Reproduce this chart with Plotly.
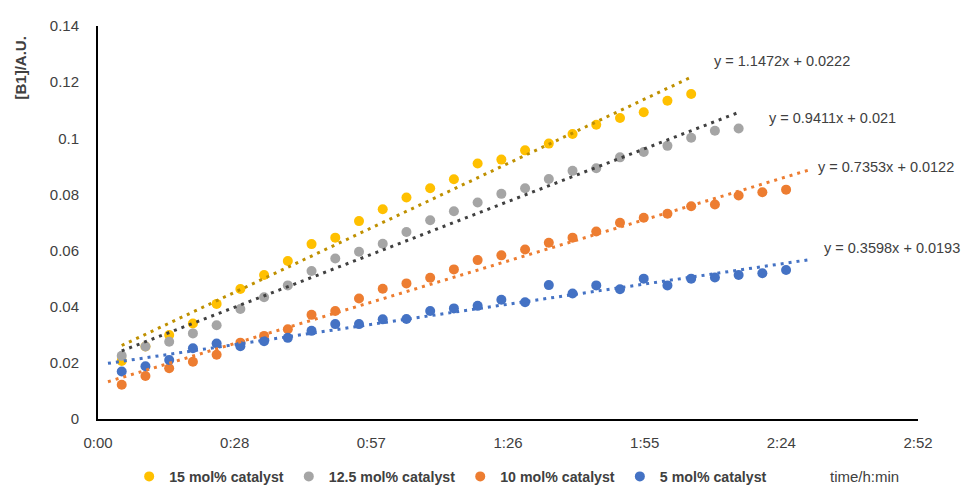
import plotly.graph_objects as go

# ---------------- data ----------------
series_names = ["15 mol% catalyst", "12.5 mol% catalyst", "10 mol% catalyst", "5 mol% catalyst"]

time_15 = [5, 10, 15, 20, 25, 30, 35, 40, 45, 50, 55, 60, 65, 70, 75, 80, 85, 90, 95, 100,
           105, 110, 115, 120, 125]
b1_15 = [0.0207, 0.0258, 0.0299, 0.0340, 0.0410, 0.0463, 0.0513, 0.0563, 0.0623, 0.0646,
         0.0705, 0.0747, 0.0789, 0.0822, 0.0854, 0.0910, 0.0924, 0.0957, 0.0981, 0.1015,
         0.1048, 0.1072, 0.1093, 0.1134, 0.1158]

time_125 = [5, 10, 15, 20, 25, 30, 35, 40, 45, 50, 55, 60, 65, 70, 75, 80, 85, 90, 95, 100,
            105, 110, 115, 120, 125, 130, 135]
b1_125 = [0.0225, 0.0258, 0.0275, 0.0305, 0.0334, 0.0392, 0.0434, 0.0476, 0.0527, 0.0572,
          0.0596, 0.0624, 0.0666, 0.0708, 0.0740, 0.0771, 0.0802, 0.0822, 0.0855, 0.0884,
          0.0893, 0.0932, 0.0951, 0.0973, 0.1002, 0.1027, 0.1035]

time_10 = [5, 10, 15, 20, 25, 30, 35, 40, 45, 50, 55, 60, 65, 70, 75, 80, 85, 90, 95, 100,
           105, 110, 115, 120, 125, 130, 135, 140, 145]
b1_10 = [0.0122, 0.0153, 0.0181, 0.0204, 0.0229, 0.0272, 0.0296, 0.0320, 0.0371, 0.0385,
         0.0429, 0.0464, 0.0483, 0.0503, 0.0533, 0.0566, 0.0583, 0.0604, 0.0628, 0.0646,
         0.0668, 0.0699, 0.0717, 0.0731, 0.0758, 0.0764, 0.0796, 0.0808, 0.0817]

time_5 = [5, 10, 15, 20, 25, 30, 35, 40, 45, 50, 55, 60, 65, 70, 75, 80, 85, 90, 95, 100,
          105, 110, 115, 120, 125, 130, 135, 140, 145]
b1_5 = [0.0169, 0.0188, 0.0210, 0.0252, 0.0269, 0.0259, 0.0277, 0.0289, 0.0314, 0.0338,
        0.0338, 0.0355, 0.0356, 0.0385, 0.0394, 0.0403, 0.0425, 0.0416, 0.0477, 0.0447,
        0.0476, 0.0462, 0.0500, 0.0476, 0.0500, 0.0504, 0.0513, 0.0519, 0.0531]

# linear trendlines (x in days, as in the Excel equations)
trend_slope = [1.1472, 0.9411, 0.7353, 0.3598]
trend_intercept = [0.0222, 0.021, 0.0122, 0.0193]
trend_start_min = [5, 5, 2.1, 2.1]
trend_end_min = [125, 135, 150.5, 150.5]
trend_labels = ["y = 1.1472x + 0.0222", "y = 0.9411x + 0.021",
                "y = 0.7353x + 0.0122", "y = 0.3598x + 0.0193"]

x_tick_min = [0, 28.8, 57.6, 86.4, 115.2, 144, 172.8]
x_tick_text = ["0:00", "0:28", "0:57", "1:26", "1:55", "2:24", "2:52"]

# ---------------- style ----------------
marker_colors = ["#FFC000", "#A5A5A5", "#ED7D31", "#4472C4"]
trend_colors = ["#BF9000", "#404040", "#ED7D31", "#4472C4"]
label_pos = [(129.4, 0.1277), (140.9, 0.1073), (151.3, 0.0896), (152.5, 0.0610)]
FONT = "Liberation Sans, Arial, sans-serif"
TXT = "#404040"
MIN_PER_DAY = 1440.0

times = [time_15, time_125, time_10, time_5]
values = [b1_15, b1_125, b1_10, b1_5]

fig = go.Figure()
for i in range(4):
    fig.add_trace(go.Scatter(
        x=times[i], y=values[i], mode="markers", name=series_names[i],
        marker=dict(color=marker_colors[i], size=10, line=dict(width=0)),
        cliponaxis=False,
    ))

for i in range(4):
    xs = [trend_start_min[i], trend_end_min[i]]
    ys = [trend_slope[i] * (x / MIN_PER_DAY) + trend_intercept[i] for x in xs]
    fig.add_trace(go.Scatter(
        x=xs, y=ys, mode="lines", showlegend=False, hoverinfo="skip",
        line=dict(color=trend_colors[i], width=3, dash="3px,5px"),
        cliponaxis=False,
    ))
    fig.add_annotation(
        x=label_pos[i][0], y=label_pos[i][1], xref="x", yref="y",
        text=trend_labels[i], showarrow=False, xanchor="left", yanchor="middle",
        font=dict(family=FONT, size=14.5, color=TXT),
    )

fig.add_annotation(
    x=(20 - 98) / 820.0, y=(419.3 - 68.5) / 393.3, xref="paper", yref="paper",
    text="[B1]/A.U.", textangle=-90, showarrow=False, xanchor="center", yanchor="middle",
    font=dict(family=FONT, size=15, color=TXT, weight="bold"),
)
fig.add_annotation(
    x=(864 - 98) / 820.0, y=(419.3 - 477) / 393.3, xref="paper", yref="paper",
    text="time/h:min", showarrow=False, xanchor="center", yanchor="middle",
    font=dict(family=FONT, size=15, color=TXT),
)

fig.update_layout(
    width=971, height=489,
    margin=dict(l=98, r=53, t=26, b=70, autoexpand=False),
    paper_bgcolor="white", plot_bgcolor="white",
    font=dict(family=FONT, size=15, color=TXT),
    showlegend=True,
    legend=dict(
        orientation="h", x=0.038, y=(419.3 - 477) / 393.3, xanchor="left", yanchor="middle",
        font=dict(family=FONT, size=14.2, color=TXT, weight="bold"),
        itemwidth=30, tracegroupgap=0, bgcolor="rgba(0,0,0,0)",
    ),
    xaxis=dict(
        range=[0, 172.8], tickvals=x_tick_min, ticktext=x_tick_text, automargin=False,
        showgrid=False, zeroline=False, showline=True, linecolor="black", linewidth=2,
        ticks="", ticklabelstandoff=9, tickfont=dict(family=FONT, size=15, color=TXT),
    ),
    yaxis=dict(
        range=[0, 0.14], dtick=0.02, tick0=0, automargin=False,
        showgrid=False, zeroline=False, showline=True, linecolor="black", linewidth=2,
        ticks="", ticklabelstandoff=14, tickfont=dict(family=FONT, size=15, color=TXT),
    ),
)

fig.write_html("out.html", config={"displayModeBar": False},
               post_script="document.body.style.margin='0';")
